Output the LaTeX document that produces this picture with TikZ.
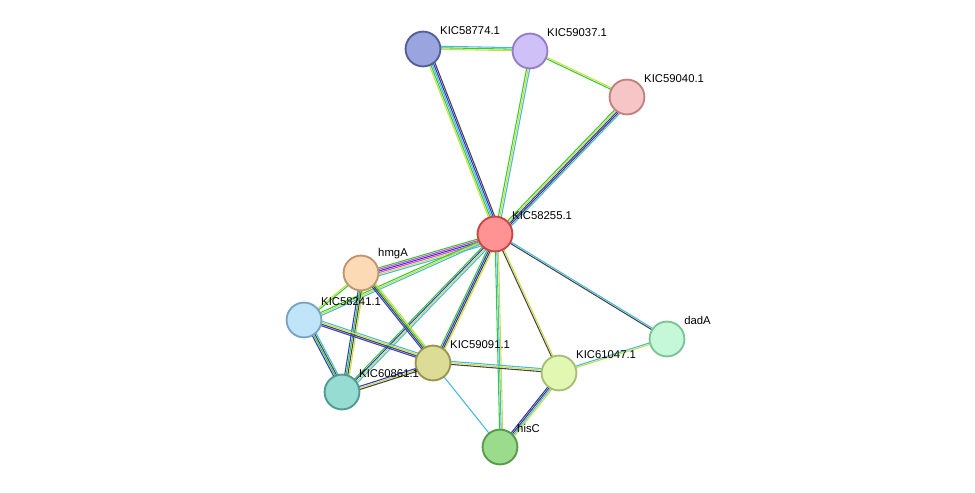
\documentclass[tikz,border=0pt]{standalone}
\usepackage{fontspec}
\setmainfont{Liberation Sans}
\usetikzlibrary{calc}
\usetikzlibrary{backgrounds}
\usetikzlibrary{positioning}
\definecolor{egreen}{HTML}{33CC33}
\definecolor{eblue}{HTML}{3333DD}
\definecolor{edark}{HTML}{444444}
\definecolor{eyellow}{HTML}{CCDD44}
\definecolor{ecyan}{HTML}{44BBDD}
\definecolor{emag}{HTML}{DD44CC}
% one edge = several parallel coloured lines
\newcommand{\medge}[3]{%
  \foreach \c [count=\n] in {#3}{%
    \pgfmathsetmacro{\off}{(\n-1)*1.15}
    \draw[color=\c, line width=0.8pt] ($(#1)!\off pt!90:(#2)$) -- ($(#2)!\off pt!-90:(#1)$);}}
\begin{document}
\begin{tikzpicture}[x=0.0264cm, y=-0.0264cm]
\tikzset{prot/.style={draw, circle, line width=1.4pt, minimum size=0.92cm, inner sep=0pt},
  lbl/.style={anchor=south west, inner sep=1pt, xshift=2pt, font=\fontsize{8.5}{10}\selectfont}}
\useasboundingbox (0,0) rectangle (975,493);
\node[prot, fill={rgb,255:red,154;green,165;blue,224}, draw={rgb,255:red,84;green,95;blue,154}, label={[lbl]north east:KIC58774.1}] (k58774) at (423,49) {};
\node[prot, fill={rgb,255:red,208;green,192;blue,248}, draw={rgb,255:red,150;green,125;blue,200}, label={[lbl]north east:KIC59037.1}] (k59037) at (530,51) {};
\node[prot, fill={rgb,255:red,246;green,198;blue,198}, draw={rgb,255:red,190;green,130;blue,130}, label={[lbl]north east:KIC59040.1}] (k59040) at (627,97) {};
\node[prot, fill={rgb,255:red,255;green,146;blue,146}, draw={rgb,255:red,200;green,70;blue,70}, label={[lbl]north east:KIC58255.1}] (k58255) at (495,234) {};
\node[prot, fill={rgb,255:red,253;green,218;blue,182}, draw={rgb,255:red,190;green,150;blue,110}, label={[lbl]north east:hmgA}] (hmgA) at (361,273) {};
\node[prot, fill={rgb,255:red,192;green,228;blue,248}, draw={rgb,255:red,120;green,165;blue,195}, label={[lbl]north east:KIC58241.1}] (k58241) at (304,320) {};
\node[prot, fill={rgb,255:red,220;green,220;blue,150}, draw={rgb,255:red,150;green,150;blue,80}, label={[lbl]north east:KIC59091.1}] (k59091) at (433,363) {};
\node[prot, fill={rgb,255:red,150;green,220;blue,210}, draw={rgb,255:red,80;green,155;blue,145}, label={[lbl]north east:KIC60861.1}] (k60861) at (342,392) {};
\node[prot, fill={rgb,255:red,226;green,248;blue,178}, draw={rgb,255:red,165;green,190;blue,120}, label={[lbl]north east:KIC61047.1}] (k61047) at (559,373) {};
\node[prot, fill={rgb,255:red,196;green,248;blue,216}, draw={rgb,255:red,125;green,195;blue,150}, label={[lbl]north east:dadA}] (dadA) at (667,339) {};
\node[prot, fill={rgb,255:red,155;green,220;blue,140}, draw={rgb,255:red,85;green,155;blue,75}, label={[lbl]north east:hisC}] (hisC) at (500,447) {};
\begin{scope}[on background layer]
\medge{k58774}{k58255}{eyellow,egreen,ecyan,eblue,edark}
\medge{k58774}{k59037}{eyellow,egreen,ecyan}
\medge{k59037}{k59040}{egreen,eyellow}
\medge{k59037}{k58255}{egreen,eyellow,ecyan}
\medge{k59040}{k58255}{egreen,eyellow,eblue,edark,ecyan}
\medge{k58255}{hmgA}{egreen,emag,eblue,emag,eyellow,ecyan}
\medge{k58255}{k58241}{egreen,eyellow,ecyan}
\medge{k58255}{k59091}{egreen,eblue,edark,eyellow}
\medge{k58255}{k60861}{egreen,eblue,eyellow,ecyan}
\medge{k58255}{k61047}{edark,eyellow}
\medge{k58255}{dadA}{edark,ecyan}
\medge{k58255}{hisC}{egreen,ecyan,eyellow}
\medge{hmgA}{k58241}{eyellow,egreen}
\medge{hmgA}{k60861}{eblue,egreen,edark,eyellow}
\medge{hmgA}{k59091}{eblue,edark,egreen,eyellow}
\medge{k58241}{k60861}{eblue,egreen,edark,ecyan}
\medge{k58241}{k59091}{eblue,edark,eyellow,ecyan}
\medge{k59091}{k60861}{eblue,eyellow,edark}
\medge{k59091}{k61047}{edark,eyellow,ecyan}
\medge{k59091}{hisC}{ecyan}
\medge{k61047}{hisC}{eblue,edark,ecyan,eyellow}
\medge{k61047}{dadA}{eyellow,ecyan}
\end{scope}
\end{tikzpicture}
\end{document}
